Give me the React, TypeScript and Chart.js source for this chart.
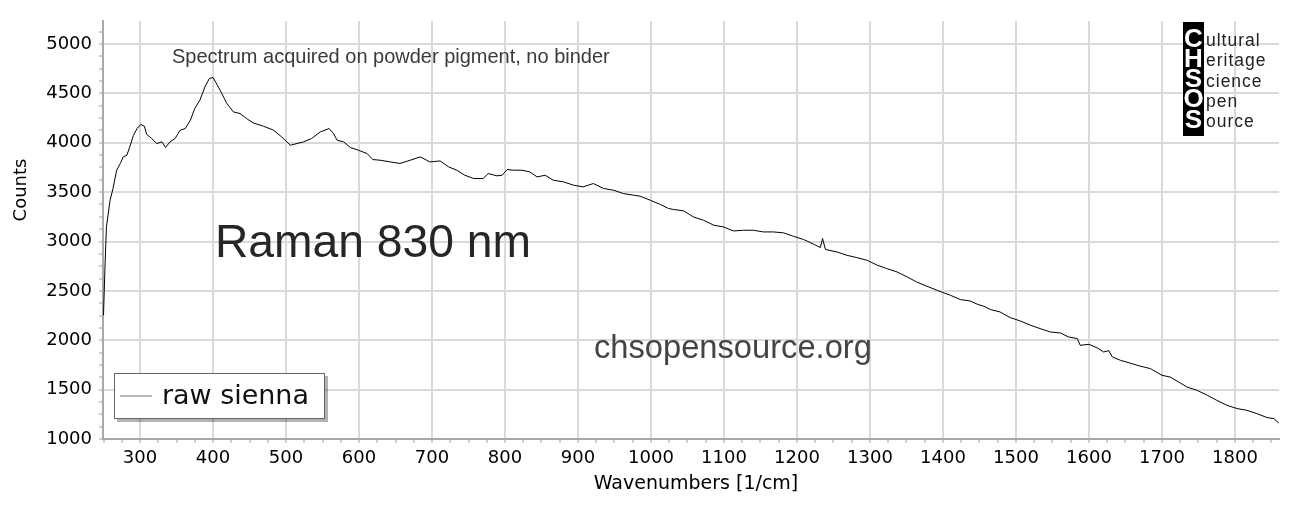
import { useEffect, useRef } from 'react';
import { Chart, registerables } from 'chart.js';

Chart.register(...registerables);

// raman spectrum (x = wavenumber, y = counts)
const wavenumbers = [
	250, 252, 254, 259, 263, 268, 273, 277, 282, 286, 291, 296, 301, 306, 309, 316, 323, 330, 335, 341,
	348, 355, 362, 369, 375, 382, 389, 395, 400, 406, 412, 419, 428, 437, 446, 455, 469, 483, 494, 506,
	515, 524, 535, 547, 559, 565, 570, 579, 588, 599, 611, 619, 629, 643, 656, 670, 684, 697, 711, 723,
	734, 745, 757, 770, 777, 789, 796, 803, 812, 823, 834, 844, 855, 866, 880, 894, 907, 921, 935, 949,
	962, 976, 985, 999, 1013, 1024, 1031, 1045, 1058, 1072, 1086, 1099, 1113, 1127, 1140, 1154, 1168, 1182, 1195, 1209,
	1223, 1232, 1235, 1239, 1255, 1268, 1282, 1296, 1310, 1323, 1337, 1351, 1364, 1378, 1394, 1410, 1424, 1437, 1447, 1456,
	1465, 1478, 1492, 1506, 1520, 1533, 1547, 1561, 1572, 1584, 1588, 1600, 1612, 1620, 1627, 1632, 1643, 1657, 1670, 1684,
	1700, 1711, 1723, 1734, 1748, 1762, 1775, 1789, 1803, 1816, 1830, 1844, 1853, 1860,
];
const counts = [
	2253, 2742, 3148, 3418, 3537, 3722, 3790, 3857, 3874, 3958, 4076, 4144, 4185, 4168, 4087, 4043, 3992, 4009, 3952, 4009,
	4043, 4127, 4144, 4228, 4347, 4431, 4566, 4651, 4661, 4583, 4499, 4397, 4312, 4296, 4245, 4201, 4168, 4127, 4059, 3975,
	3992, 4009, 4043, 4110, 4144, 4094, 4026, 4009, 3952, 3925, 3891, 3830, 3823, 3806, 3790, 3823, 3857, 3806, 3816, 3755,
	3722, 3671, 3638, 3638, 3688, 3665, 3671, 3729, 3722, 3722, 3705, 3654, 3671, 3621, 3604, 3570, 3553, 3587, 3537, 3519,
	3486, 3469, 3459, 3418, 3375, 3334, 3324, 3310, 3249, 3215, 3165, 3148, 3107, 3114, 3114, 3097, 3097, 3087, 3053, 3020,
	2972, 2939, 3030, 2919, 2894, 2861, 2837, 2810, 2760, 2726, 2692, 2641, 2590, 2547, 2500, 2456, 2412, 2398, 2365, 2344,
	2311, 2287, 2230, 2195, 2152, 2118, 2084, 2074, 2033, 2017, 1949, 1959, 1920, 1881, 1895, 1831, 1797, 1767, 1738, 1713,
	1645, 1628, 1577, 1527, 1493, 1443, 1392, 1341, 1308, 1291, 1257, 1217, 1207, 1162,
];
const seriesLabel = 'raw sienna';
const xTitle = 'Wavenumbers [1/cm]';
const yTitle = 'Counts';
const noteText = 'Spectrum acquired on powder pigment, no binder';
const bigText = 'Raman 830 nm';
const siteText = 'chsopensource.org';
const logoLetters = ['C', 'H', 'S', 'O', 'S'];
const logoWords = ['ultural', 'eritage', 'cience', 'pen', 'ource'];

// pick a font size so the text spans the wanted width
function fitFont(ctx: CanvasRenderingContext2D, text: string, family: string, width: number) {
	ctx.font = `100px ${family}`;
	return (100 * width) / ctx.measureText(text).width;
}

const overlay = {
	id: 'overlay',
	afterDraw(chart: any) {
		const ctx: CanvasRenderingContext2D = chart.ctx;
		ctx.save();

		// axis titles
		ctx.fillStyle = '#000';
		ctx.textAlign = 'center';
		ctx.textBaseline = 'alphabetic';
		ctx.font = '19px "DejaVu Sans"';
		ctx.fillText(xTitle, 696, 489);
		ctx.save();
		ctx.translate(26, 190);
		ctx.rotate(-Math.PI / 2);
		ctx.font = '18px "DejaVu Sans"';
		ctx.fillText(yTitle, 0, 0);
		ctx.restore();

		// annotations
		const arial = '"Liberation Sans", Arial, sans-serif';
		ctx.textAlign = 'left';
		ctx.fillStyle = '#3a3a3a';
		ctx.font = `${fitFont(ctx, noteText, arial, 438)}px ${arial}`;
		ctx.fillText(noteText, 172, 63);
		ctx.fillStyle = '#262626';
		ctx.font = `${fitFont(ctx, bigText, arial, 316)}px ${arial}`;
		ctx.fillText(bigText, 215, 257);
		ctx.fillStyle = '#444';
		ctx.font = `${fitFont(ctx, siteText, arial, 278)}px ${arial}`;
		ctx.fillText(siteText, 594, 358);

		// legend box
		ctx.fillStyle = 'rgba(0,0,0,0.3)';
		ctx.fillRect(117, 376, 211, 46);
		ctx.fillStyle = '#fff';
		ctx.fillRect(114, 373, 211, 46);
		ctx.strokeStyle = '#666';
		ctx.lineWidth = 1;
		ctx.strokeRect(114.5, 373.5, 210, 45);
		ctx.strokeStyle = '#777';
		ctx.beginPath();
		ctx.moveTo(120, 396);
		ctx.lineTo(152, 396);
		ctx.stroke();
		ctx.fillStyle = '#111';
		ctx.font = `${fitFont(ctx, seriesLabel, '"DejaVu Sans"', 147)}px "DejaVu Sans"`;
		ctx.fillText(seriesLabel, 162, 404);

		// CHSOS logo
		ctx.fillStyle = '#000';
		ctx.fillRect(1183, 22, 21, 114);
		ctx.fillStyle = '#fff';
		ctx.textAlign = 'center';
		ctx.font = `bold 26px ${arial}`;
		logoLetters.forEach((l, i) => ctx.fillText(l, 1193.5, 46.5 + i * 20.3));
		ctx.fillStyle = '#222';
		ctx.textAlign = 'left';
		ctx.font = `17.5px ${arial}`;
		(ctx as any).letterSpacing = '1px';
		logoWords.forEach((w, i) => ctx.fillText(w, 1206, 46 + i * 20.3));
		ctx.restore();
	},
};

function stepTicks(min: number, max: number, step: number) {
	const ticks = [];
	for (let v = Math.ceil(min / step) * step; v <= max; v += step) ticks.push({ value: v });
	return ticks;
}

export default function App() {
	const canvasRef = useRef<HTMLCanvasElement | null>(null);
	const chartInstance = useRef<Chart | null>(null);

	useEffect(() => {
		const ctx = canvasRef.current?.getContext('2d');
		if (chartInstance.current) {
			chartInstance.current.destroy();
		}
		if (ctx) {
			const tickFont = { family: '"DejaVu Sans"', size: 18 };
			chartInstance.current = new Chart(ctx, {
				type: 'line',
				data: {
					datasets: [
						{
							label: seriesLabel,
							data: wavenumbers.map((x, i) => ({ x, y: counts[i] })),
							borderColor: '#000',
							borderWidth: 1,
							pointRadius: 0,
							tension: 0,
						},
					],
				},
				options: {
					animation: false,
					responsive: true,
					maintainAspectRatio: false,
					layout: { padding: { top: 21, right: 14, left: 0, bottom: 0 } },
					plugins: {
						legend: { display: false },
						tooltip: { enabled: false },
					},
					scales: {
						x: {
							type: 'linear',
							min: 249.3,
							max: 1860.3,
							afterBuildTicks: (scale: any) => {
								scale.ticks = stepTicks(scale.min, scale.max, 25);
							},
							afterFit: (scale: any) => {
								scale.height = 85;
							},
							ticks: {
								autoSkip: false,
								maxRotation: 0,
								color: '#000',
								font: tickFont,
								padding: 5,
								callback: (v: any) => (v % 100 === 0 ? String(v) : ''),
							},
							grid: {
								color: (c: any) => (c.tick && c.tick.value % 100 === 0 ? '#dadada' : 'rgba(0,0,0,0)'),
								lineWidth: 2,
								tickColor: '#a0a0a0',
								tickWidth: 1,
								tickLength: 4,
							},
							border: { color: '#a8a8a8', width: 2 },
						},
						y: {
							min: 1000,
							max: 5233,
							afterBuildTicks: (scale: any) => {
								scale.ticks = stepTicks(scale.min, scale.max, 125);
							},
							afterFit: (scale: any) => {
								scale.width = 103;
							},
							ticks: {
								autoSkip: false,
								color: '#000',
								font: tickFont,
								padding: 7,
								callback: (v: any) => (v % 500 === 0 ? String(v) : ''),
							},
							grid: {
								color: (c: any) => (c.tick && c.tick.value % 500 === 0 ? '#dadada' : 'rgba(0,0,0,0)'),
								lineWidth: 2,
								tickColor: '#a0a0a0',
								tickWidth: 1,
								tickLength: 4,
							},
							border: { color: '#a8a8a8', width: 2 },
						},
					},
				},
				plugins: [overlay],
			});
		}
		return () => {
			if (chartInstance.current) {
				chartInstance.current.destroy();
				chartInstance.current = null;
			}
		};
	}, []);

	return (
		<div style={{ position: 'absolute', left: 0, top: 0, width: 1293, height: 524, background: '#fff' }}>
			<canvas ref={canvasRef}></canvas>
		</div>
	);
}
